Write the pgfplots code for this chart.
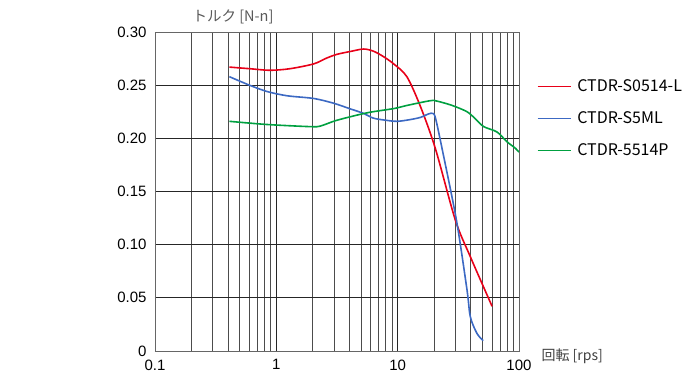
\documentclass[border=0pt]{standalone}
\usepackage{fontspec}
\setmainfont{Liberation Sans}
\newfontfamily\jp{Noto Sans CJK JP}
\usepackage{pgfplots}
\pgfplotsset{compat=1.18}
\definecolor{cred}{RGB}{232,0,24}
\definecolor{cblue}{RGB}{60,105,195}
\definecolor{cgreen}{RGB}{0,160,64}
\begin{document}
\begin{tikzpicture}[x=1pt,y=1pt]
\path[use as bounding box] (0,0) rectangle (698,380);
\begin{axis}[at={(155pt,29pt)}, anchor=south west, scale only axis,
  width=364pt, height=319pt,
  xmode=log, xmin=0.1, xmax=100, ymin=0, ymax=0.3,
  xtick={0.1,1,10,100}, xticklabels={0.1,1,10,100},
  ytick={0,0.05,0.1,0.15,0.2,0.25,0.3},
  yticklabels={0,0.05,0.10,0.15,0.20,0.25,0.30},
  grid=both,
  major tick length=0pt, minor tick length=0pt,
  major grid style={black!85, line width=0.9pt},
  minor grid style={black!70, line width=0.9pt},
  axis line style={black!60, line width=0.9pt},
  tick label style={font=\fontsize{15}{15}\selectfont},
  xticklabel style={yshift=-5pt},
  yticklabel style={xshift=-5pt},
  legend style={at={(1.049,0.857)}, anchor=north west, draw=none, fill=none,
    font=\jp\fontsize{16}{16}\selectfont, row sep=14.5pt, inner sep=0pt,
    /tikz/every even column/.append style={column sep=0pt}},
  legend cell align=left,
  legend image code/.code={\draw[#1, line width=1.3pt] (0pt,0pt) -- (33pt,0pt);},
]
\addplot[cred, line width=1.6pt, smooth, tension=0.5] coordinates {
(0.41,0.267)(0.6,0.2655)(0.89,0.264)(1.3,0.2655)(2.03,0.270)(2.6,0.2755)(3.16,0.279)(4.2,0.282)(5.25,0.284)(6.3,0.282)(7.6,0.277)(9.27,0.270)(11.9,0.258)(15.4,0.230)(20.5,0.190)(29.9,0.123)(39.7,0.0887)(60,0.042)};
\addlegendentry{\hspace{4pt}CTDR-S0514-L}
\addplot[cblue, line width=1.6pt, smooth, tension=0.5] coordinates {
(0.41,0.258)(0.6,0.250)(0.84,0.244)(1.23,0.240)(2.03,0.2375)(2.97,0.233)(4.0,0.228)(5.25,0.2234)(6.3,0.219)(8,0.217)(9.9,0.216)(12.5,0.2175)(15.4,0.2197)(18,0.223)(19.5,0.2234)(20.5,0.219)(23.2,0.1906)(30.5,0.123)(37.3,0.0573)(39.7,0.0322)(45,0.0166)(50.6,0.0097)};
\addlegendentry{\hspace{4pt}CTDR-S5ML}
\addplot[cgreen, line width=1.6pt, smooth, tension=0.5] coordinates {
(0.41,0.216)(0.84,0.213)(1.9,0.211)(2.3,0.2115)(3.16,0.217)(5.6,0.224)(9.3,0.228)(12,0.231)(18.6,0.2354)(21.1,0.235)(28,0.231)(37.3,0.225)(44,0.218)(51.2,0.211)(65.8,0.206)(79.6,0.1968)(93.5,0.1906)(100,0.187)};
\addlegendentry{\hspace{4pt}CTDR-5514P}
\end{axis}
\node[font=\jp\fontsize{14.5}{14.5}\selectfont, text=black!65] at (233,363) {トルク [N-n]};
\node[font=\jp\fontsize{14}{14}\selectfont, text=black!75, anchor=west] at (538,24) {回転 [rps]};
\end{tikzpicture}
\end{document}
